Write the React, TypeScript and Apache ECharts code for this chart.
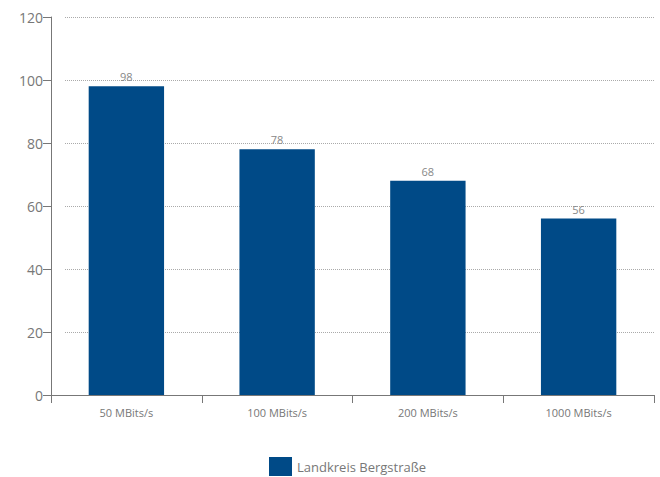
import React, { useEffect, useRef } from "react";
import * as echarts from "echarts";

const categories = ["50 MBits/s", "100 MBits/s", "200 MBits/s", "1000 MBits/s"];
const values = [98, 78, 68, 56];
const seriesName = "Landkreis Bergstraße";

export default function App() {
  const ref = useRef<HTMLDivElement>(null);
  useEffect(() => {
    const chart = echarts.init(ref.current!, null, { renderer: "svg" });
    const font = "Open Sans";
    chart.setOption({
      animation: false,
      backgroundColor: "#ffffff",
      textStyle: { fontFamily: font },
      grid: [
        { left: 51, right: 6, top: 17, bottom: 82, containLabel: false },
        { left: 65, right: 6, top: 17, bottom: 82, containLabel: false },
      ],
      legend: {
        data: [seriesName],
        left: 269,
        top: 457,
        padding: 0,
        itemWidth: 23,
        itemHeight: 19,
        itemGap: 8,
        icon: "rect",
        textStyle: { color: "#777", fontSize: 13, fontFamily: font },
      },
      xAxis: [
        {
          type: "category",
          gridIndex: 0,
          data: categories,
          axisLine: { lineStyle: { color: "#777", width: 1 } },
          axisTick: { show: true, length: 8, lineStyle: { color: "#777" } },
          axisLabel: { color: "#777", fontSize: 11, margin: 12 },
        },
        {
          type: "category",
          gridIndex: 1,
          data: categories,
          show: false,
        },
      ],
      yAxis: [
        {
          type: "value",
          gridIndex: 0,
          min: 0,
          max: 120,
          interval: 20,
          axisLine: { show: true, lineStyle: { color: "#777", width: 1 } },
          axisTick: { show: true, length: 8, lineStyle: { color: "#777" } },
          axisLabel: { color: "#777", fontSize: 14, margin: 8 },
          splitLine: { show: false },
        },
        {
          type: "value",
          gridIndex: 1,
          min: 0,
          max: 120,
          interval: 20,
          axisLine: { show: false },
          axisTick: { show: false },
          axisLabel: { show: false },
          splitLine: {
            show: true,
            lineStyle: { color: "#aaa", type: [1, 1], width: 1 },
          },
        },
      ],
      series: [
        {
          name: seriesName,
          type: "bar",
          xAxisIndex: 0,
          yAxisIndex: 0,
          data: values,
          barWidth: "50%",
          itemStyle: { color: "#004a87" },
          z: 3,
          label: {
            show: true,
            position: "top",
            distance: 4,
            color: "#888",
            fontSize: 11,
            fontFamily: font,
          },
        },
      ],
    });
    return () => chart.dispose();
  }, []);
  return <div ref={ref} style={{ width: 660, height: 477, position: "absolute", left: 0, top: 0 }} />;
}
